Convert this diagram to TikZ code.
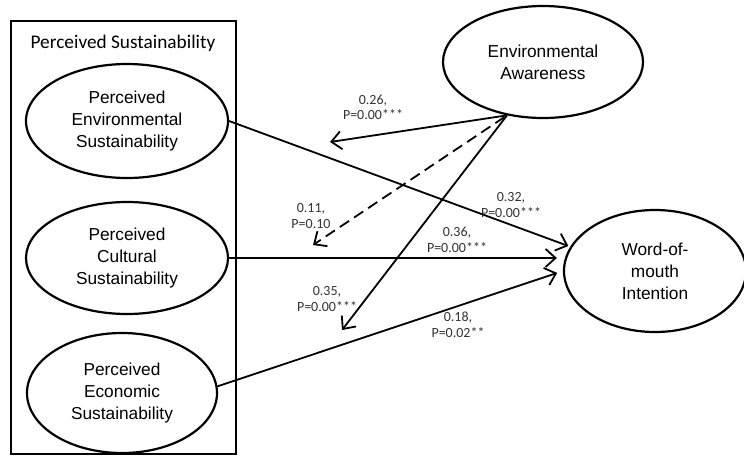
\documentclass[tikz,border=0pt]{standalone}
\usepackage{fontspec}
\setmainfont{Liberation Sans}
\newfontfamily\labfont{Carlito}
\usetikzlibrary{arrows.meta,shapes.geometric}
\tikzset{
  construct/.style={ellipse, draw, line width=2.2pt, inner sep=0pt, align=center,
     font=\fontsize{17.3}{22}\selectfont},
  path arrow/.style={line width=1.8pt, -{Straight Barb[length=10pt,width=18pt,line width=1.8pt]}},
  coef/.style={align=center, text=black!80, font=\labfont\fontsize{14}{15.5}\selectfont, inner sep=0pt}
}
\begin{document}
\begin{tikzpicture}[x=1pt,y=-1pt]
\useasboundingbox (0,0) rectangle (744,456);
% outer box
\node[draw, line width=2.4pt, minimum width=225pt, minimum height=433pt, inner sep=0pt] (box) at (123.5,237.5) {};
\node[font=\labfont\fontsize{19.3}{20}\selectfont, inner sep=0pt] (title) at (123,43) {Perceived Sustainability};
% constructs
\node[construct, minimum width=202pt, minimum height=114pt] (pes) at (127,121)
  {\fontsize{17.3}{23}\selectfont Perceived\\Environmental\\Sustainability};
\node[construct, minimum width=202pt, minimum height=112pt] (pcs) at (127,258)
  {\fontsize{17.3}{23}\selectfont Perceived\\Cultural\\Sustainability};
\node[construct, minimum width=190pt, minimum height=120pt] (pecs) at (122,393)
  {\fontsize{17.3}{23}\selectfont Perceived\\Economic\\Sustainability};
\node[construct, minimum width=200pt, minimum height=112pt] (ea) at (543,62)
  {Environmental\\Awareness};
\node[construct, minimum width=182pt, minimum height=122pt] (wom) at (655,271)
  {\fontsize{17.3}{20}\selectfont Word-of-\\mouth\\Intention};
% free ends of moderation arrows
\coordinate (m1) at (330,142);
\coordinate (m2) at (313,245);
\coordinate (m3) at (342,330);
% main paths
\draw[path arrow, shorten >=2pt] (pes.east) -- (wom.164);
\draw[path arrow, shorten >=6pt] (pcs.east) -- (pcs.east -| wom.west);
\draw[path arrow, shorten >=6pt] (pecs.4) -- (wom.west);
% moderation paths
\draw[path arrow] (ea.236) -- (m1);
\draw[path arrow, dashed, dash pattern=on 11pt off 6pt, dash phase=14pt] (ea.236) -- (m2);
\draw[path arrow] (ea.236) -- (m3);
% coefficients
\node[coef] (c1) at (373,107.5) {0.26,\\P=0.00***};
\node[coef] (c2) at (311,216) {0.11,\\P=0.10};
\node[coef] (c3) at (511,205) {0.32,\\P=0.00***};
\node[coef] (c4) at (457,240) {0.36,\\P=0.00***};
\node[coef] (c5) at (327,299) {0.35,\\P=0.00***};
\node[coef] (c6) at (458,325) {0.18,\\P=0.02**};
\end{tikzpicture}
\end{document}
